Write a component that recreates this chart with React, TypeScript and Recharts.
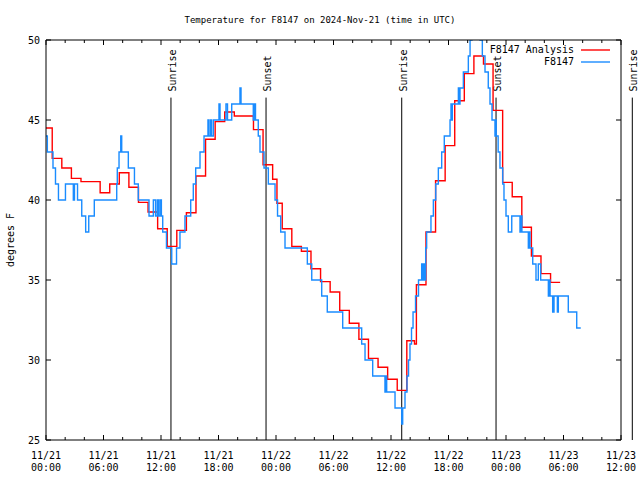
import { LineChart, Line, XAxis, YAxis, ReferenceLine } from 'recharts';

const FONT = '"DejaVu Sans Mono", "Liberation Mono", monospace';

// time axis: hours since 2024-11-21 00:00 UTC
const analysisHours = [
  0, 0.65, 1.65, 2.65, 3.65, 5.65, 6.65, 7.65, 8.65, 9.65, 10.65, 11.65, 12.65, 13.65,
  14.65, 15.65, 16.65, 17.65, 18.65, 19.65, 21.65, 22.65, 23.65, 24.1, 24.65, 25.65,
  26.65, 27.65, 28.65, 29.65, 30.65, 31.65, 32.65, 33.65, 34.65, 35.65, 36.65, 37.65,
  38.45, 38.65, 39.65, 40.65, 41.65, 42.65, 43.65, 44.65, 45.65, 46.65, 47.65, 48.65,
  49.65, 50.65, 51.65, 52.65, 53.65,
];
const analysisTemps = [
  44.5, 42.6, 42.0, 41.35, 41.15, 40.45, 41.0, 41.7, 40.8, 39.85, 39.25, 38.2, 37.1, 38.1,
  39.2, 41.5, 43.8, 44.9, 45.5, 45.25, 44.4, 42.2, 41.3, 39.8, 38.2, 37.1,
  36.8, 35.7, 34.9, 34.25, 33.1, 32.3, 31.3, 30.1, 29.55, 28.8, 28.1, 31.2,
  31.0, 34.7, 38.0, 41.2, 43.4, 46.2, 47.9, 49.0, 48.5, 45.6, 41.1, 40.2,
  38.3, 36.5, 35.4, 34.85, 34.85,
];

const obsHours = [
  0, 0.14, 0.73, 0.99, 1.3, 2.03, 2.85, 2.97, 3.29, 3.73, 4.14, 4.46, 5.04, 7.38, 7.44,
  7.62, 7.8, 7.9, 8.59, 9.23, 9.63, 10.75, 11.2, 11.43, 11.61, 11.73, 11.89, 12.04, 12.18,
  12.57, 13.12, 13.62, 13.98, 14.5, 15.1, 15.37, 15.62, 16.07, 16.49, 16.9, 17.0, 17.17,
  17.27, 17.46, 18.05, 18.16, 18.78, 18.94, 19.38, 20.24, 20.35, 21.63, 21.76, 21.86,
  22.15, 22.33, 22.75, 23.2, 23.9, 24.16, 24.49, 24.94, 27.27, 27.73, 28.77, 29.35, 30.96,
  32.94, 33.29, 34.09, 35.37, 35.45, 35.55, 36.42, 37.12, 37.22, 37.46, 37.67, 37.83,
  37.98, 38.14, 38.3, 38.56, 38.87, 39.2, 39.3, 39.4, 39.5, 39.62, 39.72, 40.17, 40.42,
  40.67, 40.94, 41.29, 41.56, 42.16, 42.26, 42.33, 42.4, 43.03, 43.15, 43.2, 43.55, 44.07,
  44.25, 44.45, 45.29, 45.53, 45.81, 46.15, 46.33, 46.54, 46.85, 46.92, 46.98, 47.18,
  47.37, 47.66, 47.79, 48.0, 48.24, 48.6, 49.46, 49.56, 49.66, 50.33, 50.4, 50.5, 50.79,
  51.13, 51.37, 51.62, 52.42, 52.5, 52.6, 52.87, 53.01, 53.36, 53.46, 54.5, 55.38, 55.8,
];
const obsTemps = [
  44, 43, 42, 41, 40, 41, 40, 41, 40, 39, 38, 39, 40, 41, 42,
  43, 44, 43, 42, 41, 40, 39, 40, 39, 40, 39, 40, 39, 38,
  37, 36, 37, 38, 39, 40, 41, 42, 43, 44, 45, 44, 45,
  44, 45, 46, 45, 46, 45, 46, 47, 46, 45, 46, 45,
  44, 43, 42, 41, 40, 39, 38, 37, 36, 35, 34, 33, 32,
  31, 30, 29, 28, 29, 28, 27, 26, 27, 28, 29, 30,
  31, 32, 33, 34, 35, 36, 35, 36, 35, 37, 38, 39, 40,
  41, 42, 43, 44, 45, 46, 45, 46, 47, 46, 47, 48, 49,
  50, 51, 50, 49, 48, 47, 46, 45, 44, 45, 44, 43,
  42, 41, 40, 39, 38, 39, 38, 39, 38, 37, 38, 37, 36,
  35, 36, 35, 34, 35, 34, 33, 34, 33, 34, 33, 32, 32,
];

const sunHours = [13.04, 22.96, 37.12, 46.96, 61.18];
const sunLabels = ['Sunrise', 'Sunset', 'Sunrise', 'Sunset', 'Sunrise'];
const SUN_TOP = 46.4;

const xTicks = Array.from({ length: 31 }, (_, i) => i * 2);
const xTickDates = ['11/21', '11/21', '11/21', '11/21', '11/22', '11/22', '11/22', '11/22', '11/23', '11/23', '11/23'];
const xTickTimes = ['00:00', '06:00', '12:00', '18:00', '00:00', '06:00', '12:00', '18:00', '00:00', '06:00', '12:00'];
const yTicks = [25, 30, 35, 40, 45, 50];

const analysis = analysisHours.map((t, i) => ({ t, v: analysisTemps[i] }));
const obs = obsHours.map((t, i) => ({ t, v: obsTemps[i] }));

function BottomTick({ x, y, payload }: any) {
  const major = payload.value % 6 === 0;
  const i = payload.value / 6;
  return (
    <g>
      <line x1={x} y1={y} x2={x} y2={y - (major ? 5 : 3)} stroke="#000" />
      {major && (
        <text x={x} y={y + 19} textAnchor="middle" fontFamily={FONT} fontSize={10} fill="#000">
          <tspan x={x}>{xTickDates[i]}</tspan>
          <tspan x={x} dy={12}>{xTickTimes[i]}</tspan>
        </text>
      )}
    </g>
  );
}

function TopTick({ x, y, payload }: any) {
  const major = payload.value % 6 === 0;
  return <line x1={x} y1={y} x2={x} y2={y + (major ? 5 : 3)} stroke="#000" />;
}

function LeftTick({ x, y, payload }: any) {
  return (
    <g>
      <line x1={x} y1={y} x2={x + 5} y2={y} stroke="#000" />
      <text x={x - 6} y={y + 3.5} textAnchor="end" fontFamily={FONT} fontSize={10} fill="#000">
        {payload.value}
      </text>
    </g>
  );
}

function RightTick({ x, y }: any) {
  return <line x1={x} y1={y} x2={x - 5} y2={y} stroke="#000" />;
}

function SunLabel({ viewBox, text }: any) {
  const { x, y } = viewBox;
  return (
    <text
      transform={`translate(${x + 5},${y - 6}) rotate(-90)`}
      fontFamily={FONT}
      fontSize={10}
      fill="#000"
    >
      {text}
    </text>
  );
}

export default function App() {
  return (
    <div style={{ position: 'absolute', left: 0, top: 0, width: 640, height: 480, background: '#fff' }}>
      <LineChart width={640} height={480} margin={{ top: 0, right: 0, bottom: 0, left: 0 }}>
        <XAxis
          xAxisId="b"
          dataKey="t"
          type="number"
          domain={[0, 60]}
          allowDataOverflow
          ticks={xTicks}
          interval={0}
          height={40}
          tickSize={0}
          tickMargin={0}
          tickLine={false}
          axisLine={{ stroke: '#000' }}
          tick={<BottomTick />}
        />
        <XAxis
          xAxisId="t"
          orientation="top"
          dataKey="t"
          type="number"
          domain={[0, 60]}
          allowDataOverflow
          ticks={xTicks}
          interval={0}
          height={40}
          tickSize={0}
          tickMargin={0}
          tickLine={false}
          axisLine={{ stroke: '#000' }}
          tick={<TopTick />}
        />
        <YAxis
          yAxisId="l"
          type="number"
          domain={[25, 50]}
          allowDataOverflow
          ticks={yTicks}
          interval={0}
          width={46}
          tickSize={0}
          tickMargin={0}
          tickLine={false}
          axisLine={{ stroke: '#000' }}
          tick={<LeftTick />}
        />
        <YAxis
          yAxisId="r"
          orientation="right"
          type="number"
          domain={[25, 50]}
          allowDataOverflow
          ticks={yTicks}
          interval={0}
          width={19}
          tickSize={0}
          tickMargin={0}
          tickLine={false}
          axisLine={{ stroke: '#000' }}
          tick={<RightTick />}
        />
        {sunHours.map((h, i) => (
          <ReferenceLine
            key={i}
            xAxisId="b"
            yAxisId="l"
            segment={[{ x: h, y: 25 }, { x: h, y: SUN_TOP }]}
            stroke="#000"
            strokeWidth={1}
            ifOverflow="visible"
            label={<SunLabel text={sunLabels[i]} />}
          />
        ))}
        <Line
          xAxisId="b"
          yAxisId="l"
          data={analysis}
          dataKey="v"
          type="stepAfter"
          stroke="#ff0000"
          strokeWidth={1.4}
          dot={false}
          activeDot={false}
          isAnimationActive={false}
        />
        <Line
          xAxisId="b"
          yAxisId="l"
          data={obs}
          dataKey="v"
          type="stepAfter"
          stroke="#1a8cff"
          strokeWidth={1.4}
          dot={false}
          activeDot={false}
          isAnimationActive={false}
        />
      </LineChart>
      <svg
        width={640}
        height={480}
        style={{ position: 'absolute', left: 0, top: 0, pointerEvents: 'none' }}
      >
        <text x={320} y={23} textAnchor="middle" fontFamily={FONT} fontSize={9} fill="#000">
          Temperature for F8147 on 2024-Nov-21 (time in UTC)
        </text>
        <text
          transform="translate(14,240) rotate(-90)"
          textAnchor="middle"
          fontFamily={FONT}
          fontSize={10}
          fill="#000"
        >
          degrees F
        </text>
        <text x={574} y={53} textAnchor="end" fontFamily={FONT} fontSize={10} fill="#000">
          F8147 Analysis
        </text>
        <line x1={581} y1={50} x2={610} y2={50} stroke="#ff0000" strokeWidth={1.4} />
        <text x={574} y={65} textAnchor="end" fontFamily={FONT} fontSize={10} fill="#000">
          F8147
        </text>
        <line x1={581} y1={62} x2={610} y2={62} stroke="#1a8cff" strokeWidth={1.4} />
      </svg>
    </div>
  );
}
